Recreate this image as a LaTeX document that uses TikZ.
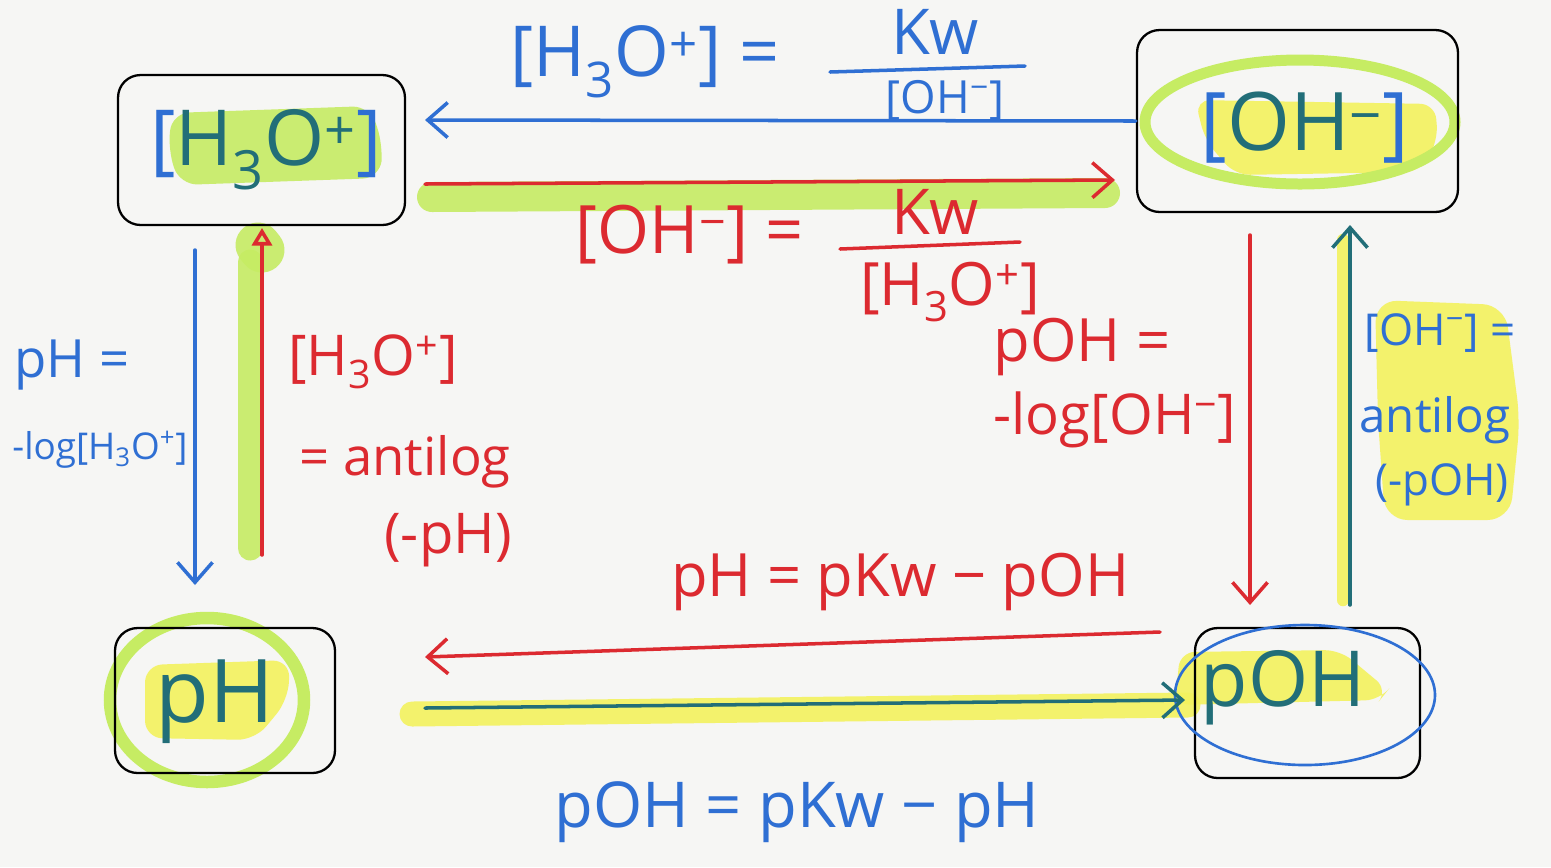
\documentclass[tikz,border=0pt]{standalone}
\usepackage{fontspec}
\setmainfont{Open Sans}
\usetikzlibrary{arrows.meta,calc}
\definecolor{paper}{HTML}{F6F6F4}
\definecolor{penblue}{HTML}{2F6FD3}
\definecolor{penred}{HTML}{DC2A30}
\definecolor{penteal}{HTML}{226E78}
\definecolor{hlgreen}{HTML}{C6EC63}
\definecolor{hlyellow}{HTML}{F3F25E}
\newcommand{\fsz}[1]{\fontsize{#1}{#1}\selectfont}
\newcommand{\Hth}{H\textsubscript{3}O\textsuperscript{+}}
\newcommand{\OHm}{OH\textsuperscript{−}}
\begin{document}
\begin{tikzpicture}[x=0.02cm,y=-0.02cm,
  box/.style={draw=black, line width=1.3pt, rounded corners=0.45cm, inner sep=0pt, fill=none},
  lbl/.style={inner sep=0pt, align=center},
  barb/.style={-{Straight Barb[length=0.4cm, width=0.7cm, line width=2pt]}},
  pen/.style={line width=2pt, line cap=round},
  mark/.style={line width=#1, line cap=round, opacity=0.9}]
% paper
\fill[paper] (0,0) rectangle (1551,867);
\useasboundingbox (0,0) rectangle (1551,867);

% ---------- highlights ----------
\fill[hlgreen, opacity=0.9, rounded corners=0.35cm] (172,113) -- (370,106) -- (383,145) -- (380,178) -- (180,185) -- (168,150) -- cycle;
\fill[hlyellow, opacity=0.9, rounded corners=0.3cm] (1195,100) -- (1435,104) -- (1438,140) -- (1420,172) -- (1235,175) -- (1205,140) -- cycle;
\fill[hlyellow, opacity=0.9, rounded corners=0.35cm] (145,665) -- (290,660) -- (288,700) -- (255,740) -- (145,738) -- cycle;
\fill[hlyellow, opacity=0.9, rounded corners=0.3cm] (1180,652) -- (1340,650) -- (1388,690) -- (1380,700) -- (1175,705) -- cycle;
\fill[hlyellow, opacity=0.9, rounded corners=0.45cm] (1375,300) -- (1505,305) -- (1520,420) -- (1510,520) -- (1385,520) -- (1378,420) -- cycle;
\draw[hlgreen, mark=0.6cm] (432,197) -- (1105,193);
\draw[hlgreen, mark=0.5cm] (250,548) -- (250,262);
\draw[hlgreen, mark=0.9cm] (258,245) -- (262,250);
\draw[hlyellow, mark=0.25cm] (1343,600) -- (1343,240);
\draw[hlyellow, mark=0.5cm] (412,714) -- (1188,705);
\draw[hlgreen, line width=0.22cm] (1300,122) ellipse [x radius=155, y radius=62];
\draw[hlgreen, line width=0.25cm] (207,700) ellipse [x radius=97, y radius=82];

% ---------- boxes ----------
\node[box, minimum width=5.74cm, minimum height=3.0cm] (bH) at (261.5,150) {};
\node[box, minimum width=6.42cm, minimum height=3.64cm] (bOH) at (1297.5,121) {};
\node[box, minimum width=4.4cm, minimum height=2.9cm] (bpH) at (225,700.5) {};
\node[box, minimum width=4.5cm, minimum height=3.0cm] (bpOH) at (1307.5,703) {};

% ---------- box texts ----------
\node[lbl] (tH) at (266,150) {\fsz{44}\color{penblue}[\color{penteal}\Hth\color{penblue}]};
\node[lbl] (tOH) at (1305,128) {\fsz{46}\color{penblue}[\color{penteal}\OHm\color{penblue}]};
\node[lbl] (tpH) at (215,702) {\fsz{50}\color{penteal}pH};
\node[lbl] (tpOH) at (1283,688) {\fsz{44}\color{penteal}pOH};
\draw[penblue, line width=1.5pt] (1305,695) ellipse [x radius=130, y radius=70];

% ---------- connector end points ----------
\coordinate (a1e) at (425,120);
\coordinate (a2s) at (425,184);
\coordinate (a2e) at (1115,180);
\coordinate (a3s) at (195,250);
\coordinate (a3e) at (195,585);
\coordinate (a4s) at (262,555);
\coordinate (a4e) at (262,228);
\coordinate (a5s) at (1250,235);
\coordinate (a5e) at (1250,605);
\coordinate (a6s) at (1350,605);
\coordinate (a6e) at (1350,225);
\coordinate (a7s) at (1160,632);
\coordinate (a7e) at (425,657);
\coordinate (a8s) at (425,708);
\coordinate (a8e) at (1185,700);

% ---------- connectors ----------
\draw[penblue, pen, barb] (bOH.west) -- (a1e);
\draw[penred, pen, barb] (a2s) -- (a2e);
\draw[penblue, pen, barb] (a3s) -- (a3e);
\draw[penred, pen, -{Triangle[open, length=0.35cm, width=0.4cm, line width=2pt]}] (a4s) -- (a4e);
\draw[penred, pen, barb] (a5s) -- (a5e);
\draw[penteal, pen, barb] (a6s) -- (a6e);
\draw[penred, pen, barb] (a7s) -- (a7e);
\draw[penteal, pen, barb] (a8s) -- (a8e);

% ---------- labels ----------
% top blue
\node[lbl, text=penblue] (l1a) at (645,62) {\fsz{40}[\Hth] =};
\node[lbl, text=penblue] (l1n) at (935,32) {\fsz{36}Kw};
\node[lbl, text=penblue] (l1d) at (945,101) {\fsz{26}[\OHm]};
\draw[penblue, pen] (830,72) -- (1025,66);
% red under top arrow
\node[lbl, text=penred] (l2a) at (690,235) {\fsz{38}[\OHm] =};
\node[lbl, text=penred] (l2n) at (935,212) {\fsz{36}Kw};
\node[lbl, text=penred] (l2d) at (950,292) {\fsz{34}[\Hth]};
\draw[penred, pen] (840,249) -- (1020,242);
% left blue
\node[lbl, text=penblue] (l3a) at (72,365) {\fsz{30}pH =};
\node[lbl, text=penblue] (l3b) at (100,450) {\fsz{21}-log[\Hth]};
% red antilog
\node[lbl, text=penred] (l4a) at (373,362) {\fsz{32}[\Hth]};
\node[lbl, text=penred] (l4b) at (405,462) {\fsz{30}= antilog};
\node[lbl, text=penred] (l4c) at (448,540) {\fsz{32}(-pH)};
% red pOH
\node[lbl, text=penred] (l5a) at (1082,347) {\fsz{34}pOH =};
\node[lbl, text=penred] (l5b) at (1115,420) {\fsz{32}-log[\OHm]};
% right blue
\node[lbl, text=penblue] (l6a) at (1440,333) {\fsz{25}[\OHm] =};
\node[lbl, text=penblue] (l6b) at (1435,420) {\fsz{27}antilog};
\node[lbl, text=penblue] (l6c) at (1442,485) {\fsz{25}(-pOH)};
% bottom
\node[lbl, text=penred] (l7) at (900,582) {\fsz{34}pH = pKw − pOH};
\node[lbl, text=penblue] (l8) at (797,812) {\fsz{36}pOH = pKw − pH};
\end{tikzpicture}
\end{document}
